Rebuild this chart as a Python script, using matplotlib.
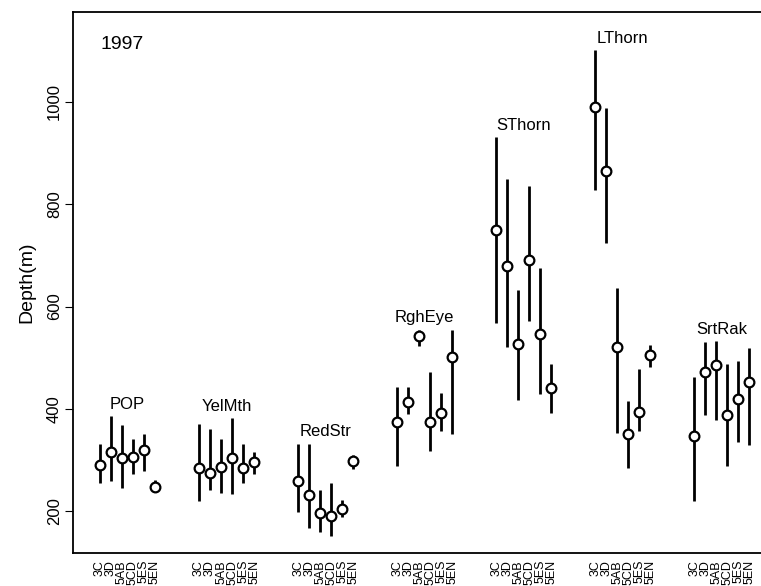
import numpy as np
import matplotlib
matplotlib.use("Agg")
from matplotlib import pyplot as plt

# areas along the x axis, repeated for every species
areas = ["3C", "3D", "5AB", "5CD", "5ES", "5EN"]
species = ["POP", "YelMth", "RedStr", "RghEye", "SThorn", "LThorn", "SrtRak"]

# mean depth (m) per species x area
pop_mid = [290, 315, 303, 305, 319, 247]
yelmth_mid = [284, 274, 287, 304, 285, 295]
redstr_mid = [259, 232, 197, 190, 205, 297]
rgheye_mid = [375, 414, 542, 375, 391, 502]
sthorn_mid = [749, 680, 527, 691, 547, 440]
lthorn_mid = [991, 865, 520, 350, 394, 505]
srtrak_mid = [346, 472, 485, 387, 420, 452]

# lower / upper ends of the depth range
pop_lo = [255, 259, 245, 272, 279, 239]
pop_hi = [332, 385, 369, 341, 351, 261]
yelmth_lo = [219, 242, 235, 234, 255, 272]
yelmth_hi = [370, 361, 340, 382, 332, 315]
redstr_lo = [199, 166, 160, 152, 188, 282]
redstr_hi = [331, 332, 242, 255, 222, 310]
rgheye_lo = [289, 390, 522, 317, 357, 350]
rgheye_hi = [442, 443, 555, 471, 431, 555]
sthorn_lo = [567, 520, 417, 572, 428, 391]
sthorn_hi = [931, 849, 632, 835, 676, 487]
lthorn_lo = [828, 725, 352, 285, 356, 481]
lthorn_hi = [1102, 988, 636, 415, 477, 525]
srtrak_lo = [219, 388, 378, 288, 336, 330]
srtrak_hi = [462, 531, 533, 487, 494, 519]

mids = [pop_mid, yelmth_mid, redstr_mid, rgheye_mid, sthorn_mid, lthorn_mid, srtrak_mid]
los = [pop_lo, yelmth_lo, redstr_lo, rgheye_lo, sthorn_lo, lthorn_lo, srtrak_lo]
his = [pop_hi, yelmth_hi, redstr_hi, rgheye_hi, sthorn_hi, lthorn_hi, srtrak_hi]

plt.rcParams["font.family"] = ["Liberation Sans", "DejaVu Sans"]

W, H = 761, 586
fig = plt.figure(figsize=(W / 100, H / 100), dpi=100)
# frame: left 73px, top 12px, bottom 553px, right edge runs off the picture
ax = fig.add_axes([73 / W, (H - 553) / H, 1.0 - 73 / W + 0.002, (553 - 12) / H])

gap = 9
xticks = []
xlabels = []
for g, name in enumerate(species):
    x = g * gap + np.arange(len(areas))
    mid = np.array(mids[g])
    lo = np.array(los[g])
    hi = np.array(his[g])
    ax.vlines(x, lo, hi, color="black", lw=2.0, zorder=2)
    ax.plot(x, mid, "o", ms=7, mfc="white", mec="black", mew=1.6, zorder=3)
    ax.annotate(name, (x.mean(), hi.max()), xytext=(0, 3), textcoords="offset points",
                ha="center", va="bottom", fontsize=12)
    xticks.extend(x)
    xlabels.extend(areas)

ax.set_xticks(xticks)
ax.set_xticklabels(xlabels, rotation=90, fontsize=9, va="top")
ax.tick_params(axis="x", length=0, pad=5)
ax.set_xlim(-2.45, 60.2)
ax.set_ylim(118, 1176)
ax.set_yticks([200, 400, 600, 800, 1000])
ax.tick_params(axis="y", labelsize=12, labelrotation=90, length=6, pad=2)
for lbl in ax.get_yticklabels():
    lbl.set_va("center")
ax.set_ylabel("Depth(m)", fontsize=14, labelpad=8)
ax.spines["right"].set_visible(False)
for s in ["left", "bottom", "top"]:
    ax.spines[s].set_linewidth(1.3)

ax.text(0.04, 0.955, "1997", transform=ax.transAxes, fontsize=14, ha="left", va="top")

fig.savefig("out.png", dpi=100)
